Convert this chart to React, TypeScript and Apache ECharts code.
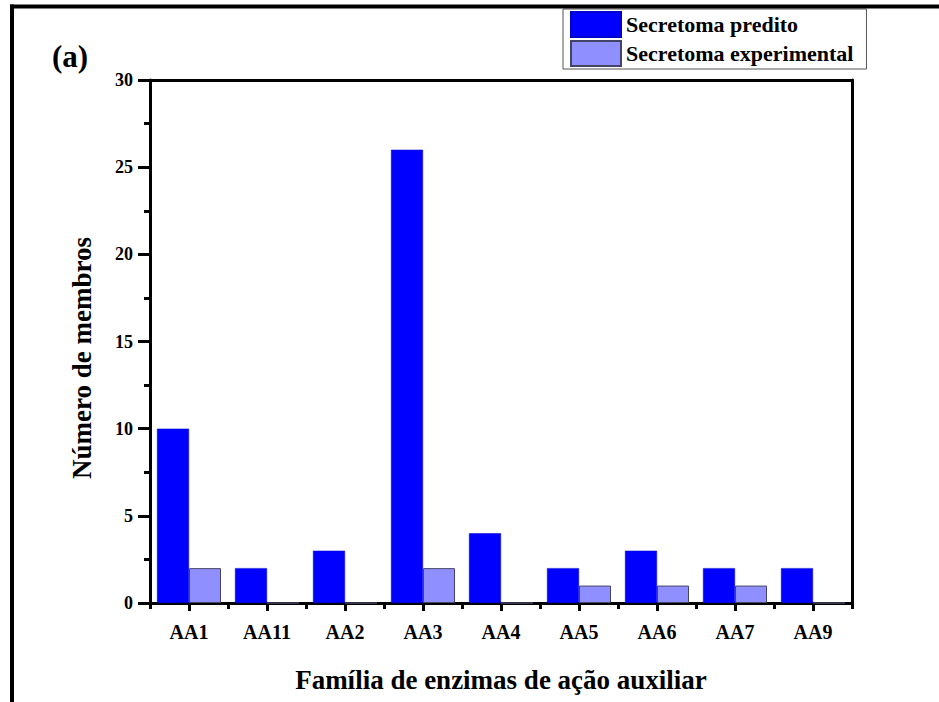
import React, { useEffect, useRef } from "react";
import * as echarts from "echarts";

const categories = ["AA1", "AA11", "AA2", "AA3", "AA4", "AA5", "AA6", "AA7", "AA9"];
const predito = [10, 2, 3, 26, 4, 2, 3, 2, 2];
const experimental = [2, 0, 0, 2, 0, 1, 1, 1, 0];
const seriesNames = ["Secretoma predito", "Secretoma experimental"];
const yMin = 0;
const yMax = 30;
const yInterval = 5;

const FONT = "Liberation Serif";

export default function App() {
  const ref = useRef<HTMLDivElement>(null);
  useEffect(() => {
    if (!ref.current) return;
    const chart = echarts.init(ref.current, undefined, { renderer: "svg" });
    chart.setOption({
      animation: false,
      backgroundColor: "#ffffff",
      grid: { left: 150, top: 80, right: 87, bottom: 99, containLabel: false },
      legend: {
        orient: "vertical",
        left: 563,
        top: 9,
        itemWidth: 50,
        itemHeight: 25,
        itemGap: 2,
        padding: [2, 13, 2, 7],
        borderColor: "#555555",
        borderWidth: 1,
        backgroundColor: "#ffffff",
        icon: "rect",
        textStyle: { fontFamily: FONT, fontWeight: "bold", fontSize: 22, color: "#000" },
        data: seriesNames,
      },
      xAxis: [
        {
          type: "category",
          data: categories,
          position: "bottom",
          axisLine: { show: true, lineStyle: { color: "#000", width: 3 } },
          axisTick: { show: true, alignWithLabel: true, length: 8, lineStyle: { color: "#000", width: 3 } },
          axisLabel: { fontFamily: FONT, fontWeight: "bold", fontSize: 20, color: "#000", margin: 19 },
          name: "Família de enzimas de ação auxiliar",
          nameLocation: "middle",
          nameGap: 63,
          nameTextStyle: { fontFamily: FONT, fontWeight: "bold", fontSize: 27, color: "#000" },
          splitLine: { show: false },
        },
        {
          type: "category",
          data: categories,
          position: "bottom",
          axisLine: { show: false },
          axisTick: { show: true, length: 6, lineStyle: { color: "#000", width: 3 } },
          axisLabel: { show: false },
          splitLine: { show: false },
        },
        {
          type: "category",
          data: categories,
          position: "top",
          axisLine: { show: true, lineStyle: { color: "#000", width: 3 } },
          axisTick: { show: false },
          axisLabel: { show: false },
          splitLine: { show: false },
        },
      ],
      yAxis: [
        {
          type: "value",
          min: yMin,
          max: yMax,
          interval: yInterval,
          position: "left",
          axisLine: { show: true, lineStyle: { color: "#000", width: 3 } },
          axisTick: { show: true, inside: false, length: 12, lineStyle: { color: "#000", width: 3 } },
          minorTick: { show: true, splitNumber: 2, length: 6, lineStyle: { color: "#000", width: 3 } },
          axisLabel: { fontFamily: FONT, fontWeight: "bold", fontSize: 18, color: "#000", margin: 17 },
          splitLine: { show: false },
        },
        {
          type: "value",
          min: yMin,
          max: yMax,
          interval: yInterval,
          position: "right",
          axisLine: { show: true, lineStyle: { color: "#000", width: 3 } },
          axisTick: { show: false },
          axisLabel: { show: false },
          splitLine: { show: false },
        },
      ],
      series: [
        {
          name: seriesNames[0],
          type: "bar",
          data: predito,
          barWidth: 32,
          barGap: "0%",
          itemStyle: { color: "#0000ff", borderColor: "#0000cc", borderWidth: 0.5 },
        },
        {
          name: seriesNames[1],
          type: "bar",
          data: experimental,
          barWidth: 32,
          barGap: "0%",
          itemStyle: { color: "#8f8fff", borderColor: "#444466", borderWidth: 1 },
        },
      ],
      graphic: [
        {
          type: "line",
          shape: { x1: 10, y1: 6.5, x2: 939, y2: 6.5 },
          style: { stroke: "#000", lineWidth: 4 },
          z: 100,
        },
        {
          type: "line",
          shape: { x1: 12, y1: 4.5, x2: 12, y2: 702 },
          style: { stroke: "#000", lineWidth: 4 },
          z: 100,
        },
        {
          type: "text",
          x: 70,
          y: 56,
          style: {
            text: "(a)",
            fontFamily: FONT,
            fontWeight: "bold",
            fontSize: 31,
            fill: "#000",
            align: "center",
            verticalAlign: "middle",
          },
        },
        {
          type: "text",
          x: 82,
          y: 358,
          rotation: Math.PI / 2,
          style: {
            text: "Número de membros",
            fontFamily: FONT,
            fontWeight: "bold",
            fontSize: 27,
            fill: "#000",
            align: "center",
            verticalAlign: "middle",
          },
        },
      ],
    });
    return () => chart.dispose();
  }, []);
  return (
    <div
      ref={ref}
      style={{ position: "fixed", left: 0, top: 0, width: 939, height: 702, background: "#fff" }}
    />
  );
}
